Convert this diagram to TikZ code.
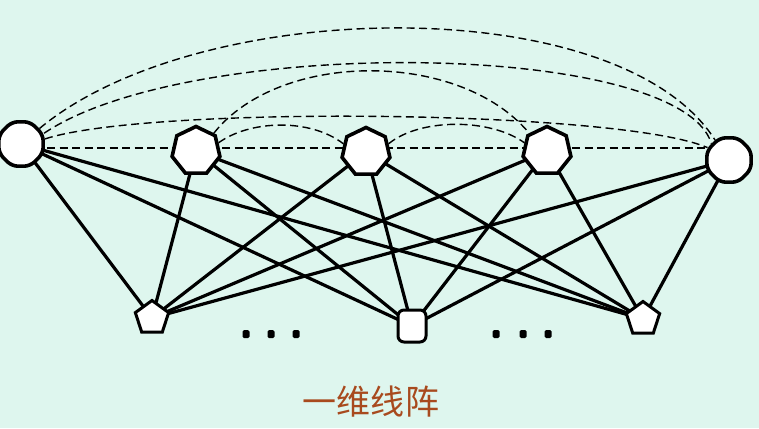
\documentclass[tikz,border=0pt]{standalone}
\usepackage{fontspec}
\newfontfamily\cjk{Noto Sans CJK SC}
\usetikzlibrary{shapes.geometric}
\definecolor{bgc}{RGB}{222,246,238}
\definecolor{txtc}{RGB}{168,74,30}
\pgfdeclarelayer{bglayer}
\pgfdeclarelayer{edgelayer}
\pgfsetlayers{bglayer,edgelayer,main}
\begin{document}
\begin{tikzpicture}[x=1pt,y=-1pt,
  pnode/.style={draw=black, line width=3.6pt, fill=white, inner sep=0pt},
  topnode/.style={pnode, regular polygon, regular polygon sides=7, minimum size=49pt},
  endnode/.style={pnode, regular polygon, regular polygon sides=8, minimum size=48pt, rounded corners=6pt},
  botnode/.style={pnode, regular polygon, regular polygon sides=5, minimum size=35pt, line width=3pt},
  boxnode/.style={pnode, rectangle, rounded corners=6pt, minimum width=28pt, minimum height=32pt, line width=3pt},
  link/.style={line width=3.2pt, line cap=round},
  arcline/.style={line width=1.4pt, dash pattern=on 8pt off 4.5pt},
  dotmark/.style={fill=black, rectangle, rounded corners=1.5pt, minimum width=7pt, minimum height=8pt, inner sep=0pt},
  title/.style={text=txtc, font=\cjk\fontsize{34}{34}\selectfont, inner sep=0pt}]
\begin{pgfonlayer}{bglayer}
  \fill[bgc] (0,0) rectangle (759,428);
\end{pgfonlayer}
\useasboundingbox (0,0) rectangle (759,428);

% top row
\node[endnode] (T1) at (21,144) {};
\node[topnode] (T2) at (196,151) {};
\node[topnode] (T3) at (366,152) {};
\node[topnode] (T4) at (547,151) {};
\node[endnode] (T5) at (729,160) {};
% bottom row
\node[botnode] (B1) at (152,318) {};
\node[boxnode] (B2) at (412,326) {};
\node[botnode] (B3) at (643,319) {};

% dots
\node[dotmark] (d1) at (246,334) {};
\node[dotmark] (d2) at (271,334) {};
\node[dotmark] (d3) at (296,334) {};
\node[dotmark] (d4) at (496,334) {};
\node[dotmark] (d5) at (523,334) {};
\node[dotmark] (d6) at (548,334) {};

% title
\node[title] (lbl) at (371,402) {一维线\hspace{2pt}阵};

\coordinate (L1) at (22,148);
\coordinate (L5) at (729,148);

\begin{pgfonlayer}{edgelayer}
  \foreach \t in {T1,T2,T3,T4,T5}
    \foreach \b in {B1,B2,B3}
      \draw[link] (\t.center) -- (\b.center);
  \draw[arcline] (L1) -- (L5);
  % arcs between top nodes
  \draw[arcline] (T1.40) .. controls (200,-5) and (620,-10) .. (T5.125);
  \draw[arcline] (T1.25) .. controls (190,35) and (680,40) .. (T5.137);
  \draw[arcline] (T1.12) .. controls (150,105) and (620,110) .. (T5.150);
  \draw[arcline] (T2.45) .. controls (280,50) and (460,50) .. (T4.135);
  \draw[arcline] (T2.20) .. controls (250,120) and (310,118) .. (T3.160);
  \draw[arcline] (T3.20) .. controls (420,118) and (490,118) .. (T4.160);
\end{pgfonlayer}
\end{tikzpicture}
\end{document}
